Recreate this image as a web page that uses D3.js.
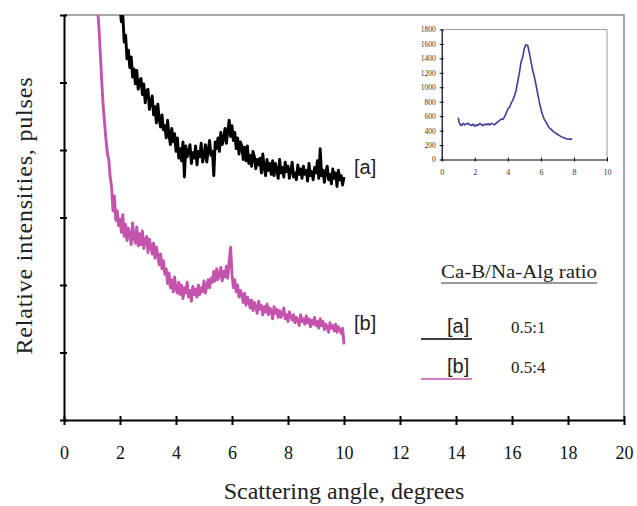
<!DOCTYPE html>
<html><head><meta charset="utf-8">
<script src="https://cdn.jsdelivr.net/npm/d3@7"></script>
<style>
html,body{margin:0;padding:0;background:#fff;}
svg{display:block;}
</style></head>
<body>
<svg id="chart" width="637" height="506"></svg>
<script>
// ---------- data ----------
const xTicks = [0,2,4,6,8,10,12,14,16,18,20];
const yTicks = [0,1,2,3,4,5,6];
// scan grid (degrees) for the two SAXS patterns
const scanA = {start: 2.0, step: 0.05};
const scanB = {start: 1.2, step: 0.05};
// [a] Ca-B/Na-Alg 0.5:1 (relative intensity, arbitrary units)
const seriesA = [
 6.10,5.90,6.00,5.60,5.70,5.35,5.48,5.22,5.38,5.08,
 5.20,4.98,5.18,4.90,5.02,5.06,4.82,4.98,4.70,4.88,
 4.90,4.60,4.72,4.80,4.52,4.64,4.40,4.68,4.46,4.34,
 4.52,4.30,4.36,4.18,4.44,4.22,4.08,4.32,4.12,4.24,
 3.98,4.18,3.88,4.02,3.84,4.12,3.60,4.06,3.90,3.96,
 4.08,3.80,3.96,3.88,4.06,3.78,3.98,3.90,4.10,3.82,
 3.90,4.08,3.82,4.00,4.14,3.92,3.98,3.62,4.12,4.02,
 4.18,3.98,4.26,4.08,4.16,4.32,4.10,4.28,4.44,4.20,
 4.36,4.14,4.26,4.02,4.18,3.94,4.12,4.06,3.86,4.04,
 3.84,4.06,3.80,3.92,3.76,3.98,3.90,3.72,3.86,3.78,
 3.88,3.66,3.94,3.74,3.62,3.86,3.70,3.80,3.64,3.84,
 3.62,3.80,3.70,3.58,3.86,3.66,3.74,3.60,3.82,3.68,
 3.76,3.58,3.70,3.82,3.60,3.66,3.56,3.78,3.64,3.72,
 3.58,3.76,3.64,3.70,3.54,3.80,3.62,3.68,3.56,3.74,
 3.66,3.84,3.58,4.02,3.62,3.70,3.52,3.68,3.76,3.56,
 3.64,3.50,3.72,3.58,3.66,3.46,3.70,3.56,3.62,3.48,
 3.60];
// [b] Ca-B/Na-Alg 0.5:4
const seriesB = [
 6.10,5.80,5.40,5.00,4.65,4.40,4.15,3.95,3.85,3.60,
 3.45,3.10,3.32,2.96,3.10,2.88,2.98,2.78,3.04,2.72,
 2.90,2.66,2.84,2.74,2.60,2.92,2.70,2.62,2.86,2.58,
 2.76,2.60,2.80,2.54,2.66,2.72,2.48,2.68,2.58,2.46,
 2.62,2.40,2.56,2.44,2.30,2.46,2.24,2.36,2.16,2.24,
 2.02,2.18,1.96,2.08,1.90,2.12,1.94,1.88,2.04,1.86,
 2.00,1.80,1.96,1.88,2.04,1.82,1.92,1.76,1.98,1.86,
 1.94,1.82,2.00,1.86,1.96,1.90,2.06,1.88,1.98,2.08,
 1.96,2.10,2.04,2.20,2.06,2.24,2.08,2.14,2.26,2.06,
 2.20,2.12,2.28,2.10,2.36,2.56,2.16,1.96,2.08,1.90,
 2.00,1.82,1.92,1.86,1.74,1.88,1.70,1.82,1.76,1.66,
 1.78,1.62,1.74,1.68,1.58,1.76,1.64,1.70,1.56,1.68,
 1.60,1.72,1.56,1.66,1.62,1.50,1.68,1.58,1.64,1.52,
 1.62,1.52,1.58,1.66,1.50,1.56,1.46,1.60,1.54,1.48,
 1.56,1.44,1.52,1.48,1.40,1.56,1.46,1.50,1.42,1.54,
 1.44,1.50,1.38,1.48,1.42,1.52,1.40,1.46,1.36,1.50,
 1.40,1.46,1.34,1.42,1.38,1.30,1.44,1.36,1.40,1.32,
 1.42,1.30,1.38,1.34,1.28,1.36,1.12];
// inset
const insetXTicks = [0,2,4,6,8,10];
const insetYTicks = [0,200,400,600,800,1000,1200,1400,1600,1800];
const insetX = [1.0,1.05,1.1,1.2,1.3,1.4,1.5,1.6,1.7,1.8,1.9,2.0,2.1,2.2,2.3,2.4,2.5,2.6,2.7,2.8,2.9,
 3.0,3.1,3.2,3.3,3.4,3.5,3.6,3.7,3.8,3.9,4.0,4.1,4.2,4.3,4.4,4.5,4.6,4.7,4.8,4.9,
 5.0,5.1,5.2,5.3,5.4,5.5,5.6,5.7,5.8,5.9,6.0,6.1,6.2,6.3,6.4,6.5,6.6,6.7,6.8,6.9,
 7.0,7.1,7.2,7.3,7.4,7.5,7.6,7.7,7.8,7.9];
const insetY = [580,520,490,470,500,480,495,500,480,470,
 490,460,480,470,500,485,470,490,480,495,
 480,500,490,480,505,520,540,560,555,590,
 640,700,720,780,820,880,960,1080,1200,1350,
 1420,1540,1590,1580,1480,1360,1240,1150,1040,920,
 800,700,620,560,520,480,440,420,400,380,
 365,350,335,320,310,300,290,285,280,285,280];
const legendTitle = "Ca-B/Na-Alg ratio";
const legendKeys = ["[a]","[b]"];
const legendRatios = ["0.5:1","0.5:4"];
const colors = ["#000000","#c453ad"];

// ---------- drawing ----------
const svg = d3.select("#chart");
const serif = "Liberation Serif, Times New Roman, serif";
const sans = "Liberation Sans, Arial, sans-serif";

const L=64, R=624, T=15, B=420;
const x = d3.scaleLinear().domain([0,20]).range([L,R]);
const y = d3.scaleLinear().domain([0,6]).range([B,T]);

svg.append("defs").append("clipPath").attr("id","clipMain")
  .append("rect").attr("x",L).attr("y",T).attr("width",R-L).attr("height",B-T);

// frame top/right
svg.append("path").attr("d",`M${L},${T}H${R}V${B}`).attr("fill","none")
  .attr("stroke","#8a8a8a").attr("stroke-width",1.5);

// x axis
const gx = svg.append("g").attr("transform",`translate(0,${B})`)
  .call(d3.axisBottom(x).tickValues(xTicks).tickSizeInner(5).tickSizeOuter(0).tickPadding(21));
gx.select(".domain").attr("stroke","#000").attr("stroke-width",2);
gx.selectAll(".tick line").attr("y1",-4).attr("y2",5).attr("stroke-width",2);
gx.selectAll(".tick text").style("font-family",serif).style("font-size","18px").attr("fill","#111");

// y axis
const gy = svg.append("g").attr("transform",`translate(${L},0)`)
  .call(d3.axisLeft(y).tickValues(yTicks).tickFormat("").tickSizeInner(4).tickSizeOuter(0));
gy.select(".domain").attr("stroke","#000").attr("stroke-width",2);
gy.selectAll(".tick line").attr("x1",3).attr("x2",-4).attr("stroke-width",2);

// titles
svg.append("text").attr("x",344).attr("y",499).attr("text-anchor","middle")
  .style("font-family",serif).style("font-size","24px").attr("fill","#222")
  .text("Scattering angle, degrees");
svg.append("text").attr("transform","translate(32,216) rotate(-90)").attr("text-anchor","middle")
  .style("font-family",serif).style("font-size","24px").attr("fill","#222")
  .attr("textLength",277).attr("lengthAdjust","spacing")
  .text("Relative intensities, pulses");

// curves
const lineA = d3.line().x((d,i)=>x(scanA.start+i*scanA.step)).y(d=>y(d));
const lineB = d3.line().x((d,i)=>x(scanB.start+i*scanB.step)).y(d=>y(d));
const gc = svg.append("g").attr("clip-path","url(#clipMain)");
gc.append("path").datum(seriesB).attr("d",lineB).attr("fill","none")
  .attr("stroke",colors[1]).attr("stroke-width",2.9).attr("stroke-linejoin","round");
gc.append("path").datum(seriesA).attr("d",lineA).attr("fill","none")
  .attr("stroke",colors[0]).attr("stroke-width",2.9).attr("stroke-linejoin","round");

// curve labels
svg.append("text").attr("x",354).attr("y",174).style("font-family",sans).style("font-size","20px")
  .attr("fill","#222").text(legendKeys[0]);
svg.append("text").attr("x",354).attr("y",330).style("font-family",sans).style("font-size","20px")
  .attr("fill","#222").text(legendKeys[1]);

// legend
svg.append("text").attr("x",441).attr("y",278).style("font-family",serif).style("font-size","19px")
  .attr("fill","#222").attr("textLength",156).attr("lengthAdjust","spacingAndGlyphs").text(legendTitle);
svg.append("line").attr("x1",441).attr("x2",597).attr("y1",283).attr("y2",283)
  .attr("stroke","#333").attr("stroke-width",1);
[333,373].forEach((yy,i)=>{
  svg.append("line").attr("x1",421).attr("x2",472).attr("y1",yy+6).attr("y2",yy+6)
    .attr("stroke",colors[i]).attr("stroke-width",1.6);
  svg.append("text").attr("x",447).attr("y",yy).style("font-family",sans).style("font-size","20px")
    .attr("fill","#222").text(legendKeys[i]);
  svg.append("text").attr("x",511).attr("y",yy).style("font-family",serif).style("font-size","17px")
    .attr("fill","#222").text(legendRatios[i]);
});

// inset
const iL=441.7, iR=607, iT=29.5, iB=159.5;
const ix = d3.scaleLinear().domain([0,10]).range([iL,iR]);
const iy = d3.scaleLinear().domain([0,1800]).range([iB,iT]);
svg.append("path").attr("d",`M${iL},${iT}H${iR}V${iB}`).attr("fill","none")
  .attr("stroke","#999").attr("stroke-width",1);
const igx = svg.append("g").attr("transform",`translate(0,${iB})`)
  .call(d3.axisBottom(ix).tickValues(insetXTicks).tickFormat(d3.format("d"))
    .tickSizeInner(2).tickSizeOuter(0).tickPadding(8));
igx.select(".domain").attr("stroke","#000").attr("stroke-width",1.2);
igx.selectAll(".tick line").attr("y1",-2).attr("y2",2);
igx.selectAll(".tick text").style("font-family",serif).style("font-size","8px").attr("fill","#333");
const igy = svg.append("g").attr("transform",`translate(${iL},0)`)
  .call(d3.axisLeft(iy).tickValues(insetYTicks).tickFormat(d3.format("d"))
    .tickSizeInner(2).tickSizeOuter(0).tickPadding(4));
igy.select(".domain").attr("stroke","#000").attr("stroke-width",1.2);
igy.selectAll(".tick line").attr("x1",2).attr("x2",-2);
igy.selectAll(".tick text").style("font-family",serif).style("font-size","7.5px").attr("fill","#333");
const iline = d3.line().x((d,i)=>ix(insetX[i])).y(d=>iy(d));
svg.append("path").datum(insetY).attr("d",iline).attr("fill","none")
  .attr("stroke","#3b3b98").attr("stroke-width",1.6).attr("stroke-linejoin","round");
</script>
</body></html>
